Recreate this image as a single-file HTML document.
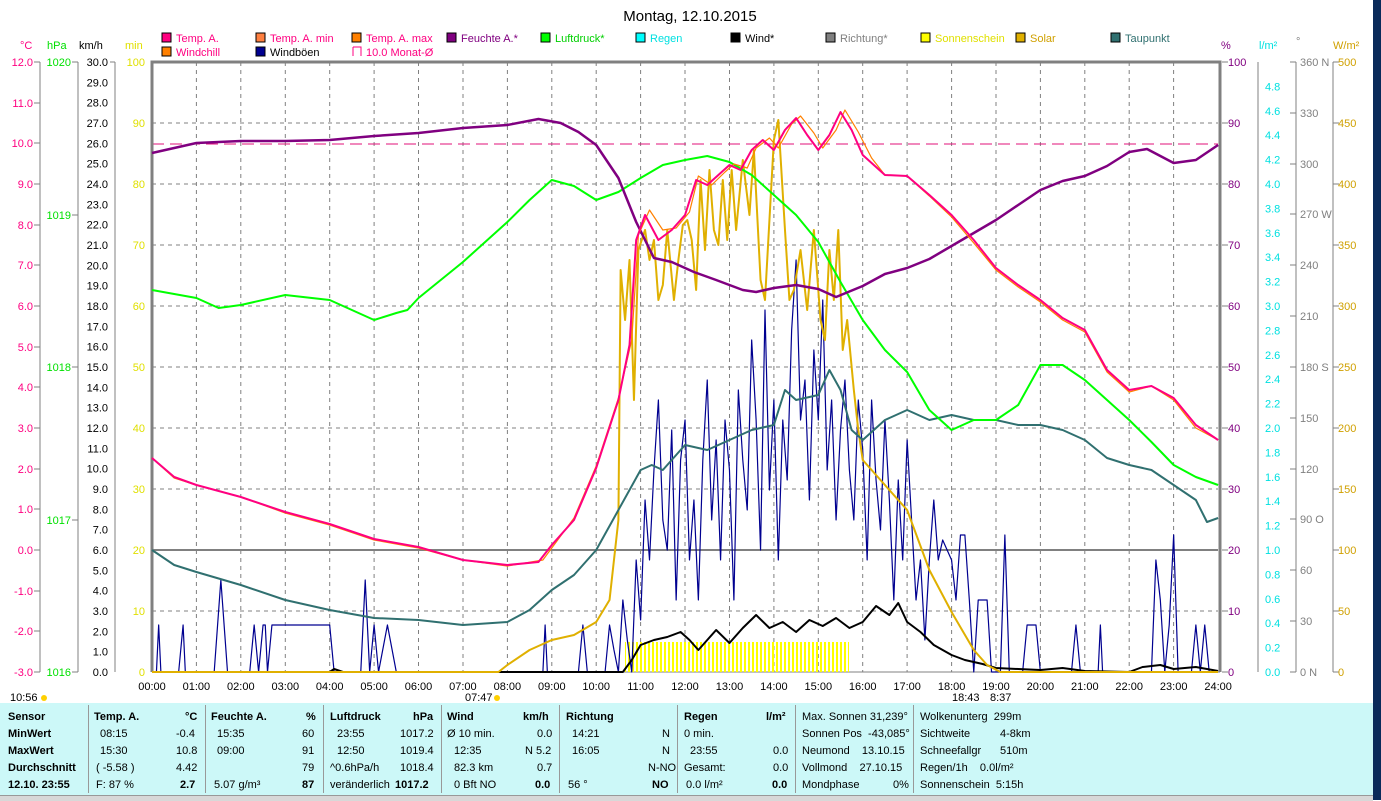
<!DOCTYPE html>
<html><head><meta charset="utf-8"><style>
body{margin:0;width:1381px;height:800px;overflow:hidden;background:#fff;font-family:"Liberation Sans",sans-serif;}
svg text{font-family:"Liberation Sans",sans-serif;font-size:11px;}
.tb{position:absolute;left:0;top:703px;width:1373px;height:92px;background:#ccf8f8;font-size:11px;}
.tb div{position:absolute;white-space:nowrap;}
.b{font-weight:bold;}
.sep{position:absolute;top:2px;width:1px;height:88px;background:#999;}
</style></head><body>
<svg width="1381" height="800" style="position:absolute;left:0;top:0">
<rect x="1373" y="0" width="8" height="800" fill="#0a2a5a"/>
<text x="690" y="21" font-size="15" style="font-size:15px" text-anchor="middle">Montag, 12.10.2015</text>
<g style="font-size:11px">
<rect x="162" y="33" width="9" height="9" fill="#ff0080" stroke="#000"/><text x="176" y="42" fill="#ff0080">Temp. A.</text>
<rect x="256" y="33" width="9" height="9" fill="#ff8040" stroke="#000"/><text x="270" y="42" fill="#ff0080">Temp. A. min</text>
<rect x="352" y="33" width="9" height="9" fill="#ff8000" stroke="#000"/><text x="366" y="42" fill="#ff0080">Temp. A. max</text>
<rect x="447" y="33" width="9" height="9" fill="#800080" stroke="#000"/><text x="461" y="42" fill="#800080">Feuchte A.*</text>
<rect x="541" y="33" width="9" height="9" fill="#00ff00" stroke="#000"/><text x="555" y="42" fill="#00d000">Luftdruck*</text>
<rect x="636" y="33" width="9" height="9" fill="#00ffff" stroke="#000"/><text x="650" y="42" fill="#00e0e0">Regen</text>
<rect x="731" y="33" width="9" height="9" fill="#000" stroke="#000"/><text x="745" y="42" fill="#000">Wind*</text>
<rect x="826" y="33" width="9" height="9" fill="#808080" stroke="#000"/><text x="840" y="42" fill="#808080">Richtung*</text>
<rect x="921" y="33" width="9" height="9" fill="#ffff00" stroke="#000"/><text x="935" y="42" fill="#e0e000">Sonnenschein</text>
<rect x="1016" y="33" width="9" height="9" fill="#e0b000" stroke="#000"/><text x="1030" y="42" fill="#d0a000">Solar</text>
<rect x="1111" y="33" width="9" height="9" fill="#307070" stroke="#000"/><text x="1125" y="42" fill="#307070">Taupunkt</text>
<rect x="162" y="47" width="9" height="9" fill="#ff8000" stroke="#000"/><text x="176" y="56" fill="#ff0080">Windchill</text>
<rect x="256" y="47" width="9" height="9" fill="#000090" stroke="#000"/><text x="270" y="56" fill="#000">Windböen</text>
<path d="M353 47h8v9M353 47v9" fill="none" stroke="#ff0080"/><text x="366" y="56" fill="#ff0080">10.0 Monat-Ø</text>
</g>
<text x="20" y="49" fill="#ff0080">°C</text><text x="47" y="49" fill="#00e000">hPa</text><text x="79" y="49">km/h</text><text x="125" y="49" fill="#e0e000">min</text>
<text x="1221" y="49" fill="#800080">%</text><text x="1259" y="49" fill="#00e0e0">l/m²</text><text x="1296" y="45" fill="#808080">°</text><text x="1333" y="49" fill="#d0a000">W/m²</text>
<g stroke="#808080" stroke-dasharray="4,4" stroke-width="1">
<path d="M196.4 62V672M240.8 62V672M285.3 62V672M329.7 62V672M374.1 62V672M418.5 62V672M463 62V672M507.4 62V672M551.8 62V672M596.2 62V672M640.6 62V672M685 62V672M729.5 62V672M773.9 62V672M818.3 62V672M862.7 62V672M907.1 62V672M951.6 62V672M996 62V672M1040.4 62V672M1084.8 62V672M1129.2 62V672M1173.6 62V672"/>
<path d="M152 123H1218M152 184H1218M152 245H1218M152 306H1218M152 367H1218M152 428H1218M152 489H1218M152 611H1218"/>
</g>
<path d="M152 550H1218" stroke="#808080" stroke-width="2"/>
<path d="M152 144H1218" stroke="#e0107a" stroke-dasharray="12,6" stroke-width="1"/>
<path d="M152 672V62H1220V672" fill="none" stroke="#808080" stroke-width="3"/>
<path d="M152 672H1220" stroke="#808080" stroke-width="1"/>
<g stroke="#808080" fill="none"><path d="M40 62V672M78 62V672M115 62V672"/>
<path d="M34 62h6M34 103h6M34 143h6M34 184h6M34 225h6M34 265h6M34 306h6M34 347h6M34 387h6M34 428h6M34 469h6M34 509h6M34 550h6M34 591h6M34 631h6M34 672h6"/>
<path d="M72 62h6M72 215h6M72 367h6M72 520h6M72 672h6"/>
<path d="M110 62h5"/>
</g>
<g text-anchor="end" fill="#ff0080">
<text x="33" y="66">12.0</text><text x="33" y="107">11.0</text><text x="33" y="147">10.0</text><text x="33" y="188">9.0</text><text x="33" y="229">8.0</text><text x="33" y="269">7.0</text><text x="33" y="310">6.0</text><text x="33" y="351">5.0</text><text x="33" y="391">4.0</text><text x="33" y="432">3.0</text><text x="33" y="473">2.0</text><text x="33" y="513">1.0</text><text x="33" y="554">0.0</text><text x="33" y="595">-1.0</text><text x="33" y="635">-2.0</text><text x="33" y="676">-3.0</text>
</g>
<g text-anchor="end" fill="#00e000"><text x="71" y="66">1020</text><text x="71" y="219">1019</text><text x="71" y="371">1018</text><text x="71" y="524">1017</text><text x="71" y="676">1016</text></g>
<g text-anchor="end" fill="#000" id="kmh"></g>
<g text-anchor="end" fill="#e0e000"><text x="145" y="66">100</text><text x="145" y="127">90</text><text x="145" y="188">80</text><text x="145" y="249">70</text><text x="145" y="310">60</text><text x="145" y="371">50</text><text x="145" y="432">40</text><text x="145" y="493">30</text><text x="145" y="554">20</text><text x="145" y="615">10</text><text x="145" y="676">0</text></g>
<g stroke="#808080" fill="none"><path d="M1222 62h6M1222 123h6M1222 184h6M1222 245h6M1222 306h6M1222 367h6M1222 428h6M1222 489h6M1222 550h6M1222 611h6M1222 672h6"/>
<path d="M1258 62V672M1296 62V672M1333 62V672"/><path d="M1290 62h6M1290 113h6M1290 164h6M1290 214h6M1290 265h6M1290 316h6M1290 367h6M1290 418h6M1290 469h6M1290 519h6M1290 570h6M1290 621h6M1290 672h6"/><path d="M1333 62h6M1333 123h6M1333 184h6M1333 245h6M1333 306h6M1333 367h6M1333 428h6M1333 489h6M1333 550h6M1333 611h6M1333 672h6"/>
</g>
<g fill="#800080"><text x="1228" y="66">100</text><text x="1228" y="127">90</text><text x="1228" y="188">80</text><text x="1228" y="249">70</text><text x="1228" y="310">60</text><text x="1228" y="371">50</text><text x="1228" y="432">40</text><text x="1228" y="493">30</text><text x="1228" y="554">20</text><text x="1228" y="615">10</text><text x="1228" y="676">0</text></g>
<g fill="#00e0e0" id="lm"></g>
<g fill="#808080"><text x="1300" y="66">360 N</text><text x="1300" y="117">330</text><text x="1300" y="168">300</text><text x="1300" y="218">270 W</text><text x="1300" y="269">240</text><text x="1300" y="320">210</text><text x="1300" y="371">180 S</text><text x="1300" y="422">150</text><text x="1300" y="473">120</text><text x="1300" y="523">90 O</text><text x="1300" y="574">60</text><text x="1300" y="625">30</text><text x="1300" y="676">0 N</text></g>
<g fill="#d0a000"><text x="1338" y="66">500</text><text x="1338" y="127">450</text><text x="1338" y="188">400</text><text x="1338" y="249">350</text><text x="1338" y="310">300</text><text x="1338" y="371">250</text><text x="1338" y="432">200</text><text x="1338" y="493">150</text><text x="1338" y="554">100</text><text x="1338" y="615">50</text><text x="1338" y="676">0</text></g>
<g text-anchor="middle" id="tl"></g>
<text x="10" y="701">10:56</text><circle cx="44" cy="698" r="3" fill="#ffd000"/>
<text x="465" y="701">07:47</text><circle cx="497" cy="698" r="3" fill="#ffd000"/>
<text x="952" y="701">18:43</text><text x="990" y="701">8:37</text>
<defs><pattern id="ss" width="4" height="10" patternUnits="userSpaceOnUse"><rect width="2" height="10" fill="#ffff00"/></pattern></defs>
<rect x="625" y="642" width="224" height="30" fill="url(#ss)"/>
<g transform="translate(152,0) scale(44.42,1)" fill="none" stroke-linejoin="round">
<polyline vector-effect="non-scaling-stroke" stroke="#000090" stroke-width="1.2" points="0,672 0.1,672 0.15,625 0.2,672 0.6,672 0.7,625 0.75,672 1.4,672 1.55,580 1.7,672 2.2,672 2.3,625 2.4,672 2.5,625 2.55,625 2.6,672 2.7,625 4.0,625 4.1,672 4.7,672 4.8,580 4.9,672 5.0,625 5.1,672 5.3,625 5.5,672 6.0,672 8.8,672 8.85,625 8.9,672 9.6,672 9.7,625 9.8,672 10.2,672 10.3,625 10.4,650 10.5,672 10.6,600 10.7,640 10.8,672 10.9,560 11.0,620 11.1,500 11.2,560 11.3,470 11.4,400 11.5,520 11.6,550 11.7,430 11.8,600 11.9,460 12.0,420 12.1,560 12.2,500 12.3,600 12.4,460 12.5,380 12.6,520 12.7,440 12.8,560 12.9,420 13.0,470 13.1,600 13.2,390 13.3,460 13.4,510 13.5,340 13.6,420 13.7,550 13.8,310 13.9,490 14.0,400 14.1,560 14.2,420 14.3,480 14.4,330 14.5,260 14.6,420 14.7,380 14.8,500 14.9,350 15.0,420 15.1,300 15.2,470 15.3,400 15.4,520 15.5,430 15.6,380 15.7,470 15.8,520 15.9,400 16.0,450 16.1,560 16.2,400 16.3,480 16.4,530 16.5,420 16.6,500 16.7,600 16.8,480 16.9,560 17.0,440 17.1,520 17.2,600 17.3,560 17.4,640 17.5,560 17.6,500 17.7,560 17.8,540 18.0,560 18.1,600 18.2,535 18.3,535 18.4,600 18.5,672 18.6,600 18.8,600 18.9,672 19.1,672 19.2,535 19.3,672 19.6,672 19.7,625 19.9,625 20.0,672 20.7,672 20.8,625 20.9,672 21.3,672 21.35,625 21.4,672 22.5,672 22.6,560 22.7,600 22.8,672 22.9,625 23.0,535 23.1,672 23.4,672 23.5,625 23.6,672 23.7,625 23.8,672"/>
<polyline vector-effect="non-scaling-stroke" stroke="#000" stroke-width="2" points="0,672 4,672 4.1,669 4.3,672 10.6,672 10.8,660 11,645 11.3,640 11.6,637 11.9,632 12.1,640 12.3,650 12.5,640 12.7,630 13,643 13.3,628 13.6,615 13.9,628 14.2,622 14.5,632 14.8,620 15.1,626 15.4,618 15.7,628 16,622 16.3,606 16.6,615 16.8,603 17,622 17.3,632 17.6,645 18,655 18.3,660 18.7,664 19,668 19.5,669 20,670 20.5,668 21,671 22,672 22.3,667 22.7,665 23,669 23.5,667 24,671"/>
<polyline vector-effect="non-scaling-stroke" stroke="#e0b000" stroke-width="2" points="0,672 7.8,672 8,665 8.5,650 9,640 9.5,635 10,622 10.3,600 10.5,520 10.55,270 10.65,320 10.75,260 10.85,400 10.95,250 11.1,230 11.2,260 11.3,240 11.4,300 11.5,285 11.6,230 11.75,300 11.85,260 11.95,225 12.05,220 12.15,240 12.25,290 12.35,180 12.45,250 12.55,170 12.65,230 12.75,245 12.85,180 12.95,240 13.05,170 13.15,230 13.3,160 13.45,215 13.55,150 13.7,280 13.8,300 14,140 14.1,120 14.25,230 14.35,300 14.45,290 14.6,250 14.75,310 14.9,230 15.05,320 15.15,340 15.25,250 15.35,300 15.45,230 15.55,350 15.65,320 15.8,390 15.9,430 16,460 16.5,485 17,510 17.5,570 18,612 18.5,650 18.8,665 19.1,672 24,672"/>
<polyline vector-effect="non-scaling-stroke" stroke="#307070" stroke-width="2" points="0,550 0.5,565 1,572 2,585 3,600 4,610 5,618 6,620 7,625 8,622 8.5,610 9,590 9.5,575 10,550 10.5,510 11,470 11.25,465 11.5,470 12,445 12.5,450 13,440 13.5,430 14,425 14.25,390 14.5,400 15,395 15.25,370 15.5,390 15.75,430 16,440 16.5,420 17,410 17.5,420 18,415 18.5,420 19,420 19.5,425 20,425 20.5,430 21,440 21.5,458 22,465 22.5,470 23,485 23.5,500 23.75,522 24,518"/>
<polyline vector-effect="non-scaling-stroke" stroke="#00ff00" stroke-width="2" points="0,290 1,298 1.5,308 2,305 3,295 4,300 5,320 5.5,313 5.75,310 6,298 7,262 8,222 8.5,200 9,180 9.5,186 10,200 10.5,192 11,178 11.5,165 12,160 12.5,156 13,162 13.5,175 14,195 14.5,215 15,242 15.5,282 16,320 16.5,350 17,372 17.5,410 18,430 18.5,420 19,420 19.5,405 20,365 20.5,365 21,380 21.5,400 22,420 22.5,442 23,465 23.5,477 24,485"/>
<polyline vector-effect="non-scaling-stroke" stroke="#800080" stroke-width="2.5" points="0,153 1,143 2,141 3,141 4,140 5,136 6,133 7,128 8,125 8.7,119 9.2,123 9.6,132 10,145 10.5,178 10.9,222 11.3,258 11.7,262 12.2,272 12.7,280 13.3,290 13.6,292 14,288 14.5,285 15,289 15.4,297 16,286 16.5,274 17,268 17.5,259 18,246 18.5,233 19,220 19.5,205 20,190 20.5,181 21,176 21.5,166 22,152 22.4,149 23,163 23.5,160 24,145"/>
<polyline vector-effect="non-scaling-stroke" stroke="#ff8000" stroke-width="1.2" points="0,458 0.5,478 1,485 2,497 3,513 4,525 5,540 6,548 7,560 8,566 8.8,560 9.1,542 9.5,518 10,466 10.5,398 10.8,340 10.95,235 11.2,210 11.5,230 11.8,228 12.1,212 12.3,176 12.6,185 12.9,172 13.1,164 13.4,168 13.6,148 13.9,138 14.1,148 14.4,124 14.6,116 14.9,133 15.1,148 15.4,130 15.6,110 15.9,132 16.2,158 16.5,175 17,176 17.5,196 18,217 18.5,243 19,270 19.5,287 20,302 20.5,320 21,332 21.5,372 22,392 22.5,386 23,400 23.5,428 24,440"/>
<polyline vector-effect="non-scaling-stroke" stroke="#ff0080" stroke-width="2" points="0,458 0.5,477 1,485 2,497 3,512 4,524 5,539 6,547 7,560 8,565 8.7,562 9,545 9.5,520 10,468 10.5,400 10.75,345 10.9,240 11.1,215 11.4,240 11.7,230 12,215 12.25,180 12.5,185 12.75,175 13,165 13.25,170 13.5,150 13.75,140 14,150 14.25,130 14.5,118 14.75,135 15,150 15.25,135 15.5,112 15.75,130 16,155 16.5,175 17,176 17.5,195 18,215 18.5,240 19,268 19.5,285 20,300 20.5,318 21,330 21.5,370 22,390 22.5,386 23,398 23.5,425 24,440"/>
</g>
</svg>
<div class="tb">
<div class="sep" style="left:88px"></div><div class="sep" style="left:205px"></div><div class="sep" style="left:323px"></div><div class="sep" style="left:441px"></div><div class="sep" style="left:559px"></div><div class="sep" style="left:677px"></div><div class="sep" style="left:795px"></div><div class="sep" style="left:913px"></div>
<div class="b" style="left:8px;top:8px">Sensor</div><div class="b" style="left:8px;top:25px">MinWert</div><div class="b" style="left:8px;top:42px">MaxWert</div><div class="b" style="left:8px;top:59px">Durchschnitt</div><div class="b" style="left:8px;top:76px">12.10. 23:55</div>
<div class="b" style="left:94px;top:8px">Temp. A.</div><div class="b" style="left:185px;top:8px">°C</div>
<div style="left:100px;top:25px">08:15</div><div style="left:176px;top:25px">-0.4</div>
<div style="left:100px;top:42px">15:30</div><div style="left:176px;top:42px">10.8</div>
<div style="left:96px;top:59px">( -5.58 )</div><div style="left:176px;top:59px">4.42</div>
<div style="left:96px;top:76px">F: 87 %</div><div class="b" style="left:180px;top:76px">2.7</div>
<div class="b" style="left:211px;top:8px">Feuchte A.</div><div class="b" style="left:306px;top:8px">%</div>
<div style="left:217px;top:25px">15:35</div><div style="left:302px;top:25px">60</div>
<div style="left:217px;top:42px">09:00</div><div style="left:302px;top:42px">91</div>
<div style="left:302px;top:59px">79</div>
<div style="left:214px;top:76px">5.07 g/m³</div><div class="b" style="left:302px;top:76px">87</div>
<div class="b" style="left:330px;top:8px">Luftdruck</div><div class="b" style="left:413px;top:8px">hPa</div>
<div style="left:337px;top:25px">23:55</div><div style="left:400px;top:25px">1017.2</div>
<div style="left:337px;top:42px">12:50</div><div style="left:400px;top:42px">1019.4</div>
<div style="left:330px;top:59px">^0.6hPa/h</div><div style="left:400px;top:59px">1018.4</div>
<div style="left:330px;top:76px">veränderlich</div><div class="b" style="left:395px;top:76px">1017.2</div>
<div class="b" style="left:447px;top:8px">Wind</div><div class="b" style="left:523px;top:8px">km/h</div>
<div style="left:447px;top:25px">Ø 10 min.</div><div style="left:537px;top:25px">0.0</div>
<div style="left:454px;top:42px">12:35</div><div style="left:525px;top:42px">N 5.2</div>
<div style="left:454px;top:59px">82.3 km</div><div style="left:537px;top:59px">0.7</div>
<div style="left:454px;top:76px">0 Bft NO</div><div class="b" style="left:535px;top:76px">0.0</div>
<div class="b" style="left:566px;top:8px">Richtung</div>
<div style="left:572px;top:25px">14:21</div><div style="left:662px;top:25px">N</div>
<div style="left:572px;top:42px">16:05</div><div style="left:662px;top:42px">N</div>
<div style="left:648px;top:59px">N-NO</div>
<div style="left:568px;top:76px">56 °</div><div class="b" style="left:652px;top:76px">NO</div>
<div class="b" style="left:684px;top:8px">Regen</div><div class="b" style="left:766px;top:8px">l/m²</div>
<div style="left:684px;top:25px">0 min.</div>
<div style="left:690px;top:42px">23:55</div><div style="left:773px;top:42px">0.0</div>
<div style="left:684px;top:59px">Gesamt:</div><div style="left:773px;top:59px">0.0</div>
<div style="left:686px;top:76px">0.0 l/m²</div><div class="b" style="left:772px;top:76px">0.0</div>
<div style="left:802px;top:8px">Max. Sonnen 31,239°</div>
<div style="left:802px;top:25px">Sonnen Pos &nbsp;-43,085°</div>
<div style="left:802px;top:42px">Neumond &nbsp;&nbsp;&nbsp;13.10.15</div>
<div style="left:802px;top:59px">Vollmond &nbsp;&nbsp;&nbsp;27.10.15</div>
<div style="left:802px;top:76px">Mondphase</div><div style="left:893px;top:76px">0%</div>
<div style="left:920px;top:8px">Wolkenunterg &nbsp;299m</div>
<div style="left:920px;top:25px">Sichtweite</div><div style="left:1000px;top:25px">4-8km</div>
<div style="left:920px;top:42px">Schneefallgr</div><div style="left:1000px;top:42px">510m</div>
<div style="left:920px;top:59px">Regen/1h &nbsp;&nbsp;&nbsp;0.0l/m²</div>
<div style="left:920px;top:76px">Sonnenschein &nbsp;5:15h</div>
</div>
<div style="position:absolute;left:0;top:795px;width:1373px;height:5px;background:#d8d8d8;border-top:1px solid #999"></div>
<script>
var s='',i;
for(i=0;i<=30;i++){s+='<text x="108" y="'+(66+i*20.333).toFixed(1)+'">'+(30-i).toFixed(1)+'</text>';}
document.getElementById('kmh').innerHTML=s;
s='';for(i=0;i<=24;i++){var v=(i*0.2);if(v<0.01)v=0;s+='<text x="1265" y="'+(676-i*24.4).toFixed(1)+'">'+v.toFixed(1)+'</text>';}
document.getElementById('lm').innerHTML=s;
s='';for(i=0;i<=24;i++){s+='<text x="'+(152+i*44.42).toFixed(1)+'" y="690">'+(i<10?'0':'')+i+':00</text>';}
document.getElementById('tl').innerHTML=s;
</script>
</body></html>
